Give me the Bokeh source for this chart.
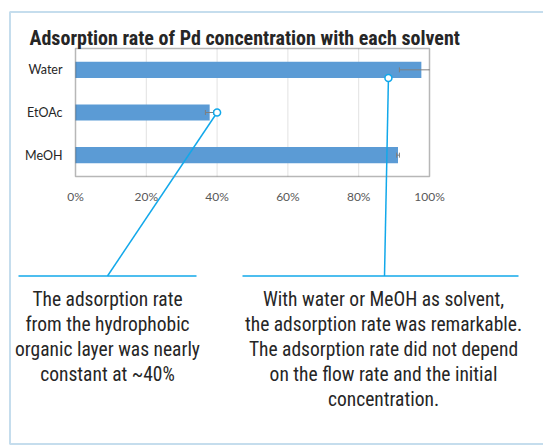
import math

from bokeh.plotting import figure
from bokeh.models import Range1d, FixedTicker, Label, BoxAnnotation, Arrow, LinearAxis
from bokeh.embed import file_html
from bokeh.resources import INLINE

# ---- data ----
solvents = ["MeOH", "EtOAc", "Water"]
rate_pct = [91.1, 37.9, 97.7]
err_pct = [0.4, 1.2, 6.2]
x_ticks = [0, 20, 40, 60, 80, 100]
x_tick_labels = ["0%", "20%", "40%", "60%", "80%", "100%"]

title_text = "Adsorption rate of Pd concentration with each solvent"
note_left = ["The adsorption rate", "from the hydrophobic",
             "organic layer was nearly", "constant at ~40%"]
note_right = ["With water or MeOH as solvent,", "the adsorption rate was remarkable.",
              "The adsorption rate did not depend", "on the flow rate and the initial",
              "concentration."]

# callout anchor points: (percent, solvent, offset within the category slot)
BAR_H = 0.38
anchor_left = (40.0, "EtOAc", 0.0)
anchor_right = (88.4, "Water", -BAR_H / 2)

# ---- layout ----
W, H = 543, 445
CL, CR, CT, CB = 75, 429, 48, 176   # chart box edges in canvas pixels
BAR_COLOR = "#5b9bd5"
CALLOUT = "#12a8ea"
TEXT = "#262626"
NARROW = "Roboto Condensed"

n = len(solvents)
y_pos = list(range(n))              # one slot per solvent, bottom to top
slot = (CB - CT) / n
X_MIN, X_MAX = x_ticks[0], x_ticks[-1]
x_per_px = (X_MAX - X_MIN) / (CR - CL)

# the frame covers the whole canvas; the chart box sits inside it
x_range = Range1d(X_MIN - CL * x_per_px, X_MIN + (W - CL) * x_per_px)
y_range = Range1d((CB - H) / slot - 0.5, CB / slot - 0.5)


def px_x(pct):
    return CL + (pct - X_MIN) / x_per_px


def px_y(cat, off=0.0):
    return CB - (solvents.index(cat) + 0.5 + off) * slot


p = figure(width=W, height=H, output_backend="svg", toolbar_location=None,
           x_range=x_range, y_range=y_range,
           x_axis_location=None, y_axis_location=None,
           min_border=0, min_border_left=0, min_border_right=0,
           min_border_top=0, min_border_bottom=0)
p.background_fill_color = "white"
p.border_fill_color = "white"
p.outline_line_color = None
p.xgrid.visible = False
p.ygrid.visible = False

# canvas-pixel ranges for the decorations around the chart
p.extra_x_ranges = {"cx": Range1d(0, W)}
p.extra_y_ranges = {"cy": Range1d(H, 0)}

# vertical gridlines inside the chart box
grid_x = x_ticks[1:-1]
p.segment(x0=grid_x, y0=[-0.5] * len(grid_x), x1=grid_x, y1=[n - 0.5] * len(grid_x),
          line_color="#e2e2e2", line_width=1)

# bars
p.hbar(y=y_pos, right=rate_pct, height=BAR_H, left=0, fill_color=BAR_COLOR,
       line_color=None)

# error bars (cut at the end of the value axis)
lo = [r - e for r, e in zip(rate_pct, err_pct)]
hi = [min(r + e, X_MAX) for r, e in zip(rate_pct, err_pct)]
p.segment(x0=lo, y0=y_pos, x1=hi, y1=y_pos, line_color="#7f7f7f", line_width=1)
caps_x = lo + [h for h in hi if h < X_MAX]
caps_y = y_pos + [y for y, h in zip(y_pos, hi) if h < X_MAX]
p.scatter(x=caps_x, y=caps_y, marker="dash", angle=math.pi / 2,
          size=5, line_color="#7f7f7f", line_width=1)

# chart box outline
p.add_layout(BoxAnnotation(left=X_MIN, right=X_MAX, bottom=-0.5, top=n - 0.5,
                           fill_color=None, line_color="#111111", line_width=1.5))

# axes pinned to the chart box
xaxis = LinearAxis(fixed_location=-0.5, ticker=FixedTicker(ticks=x_ticks),
                   major_label_overrides=dict(zip(x_ticks, x_tick_labels)))
yaxis = LinearAxis(fixed_location=X_MIN, ticker=FixedTicker(ticks=y_pos),
                   major_label_overrides=dict(zip(y_pos, solvents)))
for ax in (xaxis, yaxis):
    ax.axis_line_color = None
    ax.major_tick_line_color = None
    ax.minor_tick_line_color = None
    ax.major_tick_out = 0
    ax.major_tick_in = 0
    ax.major_label_text_font = "Lato"
xaxis.major_label_standoff = 12
xaxis.major_label_text_font_size = "12px"
xaxis.major_label_text_color = "#595959"
yaxis.major_label_standoff = 13
yaxis.major_label_text_font_size = "12.5px"
yaxis.major_label_text_color = TEXT
p.add_layout(xaxis, "below")
p.add_layout(yaxis, "left")

# outer panel border
p.add_layout(BoxAnnotation(left=9.5, right=W + 20, top=11.5, bottom=443.5,
                           fill_color=None, line_color="#3f8fc4", line_width=2,
                           x_range_name="cx", y_range_name="cy"))

# title
p.add_layout(Label(x=29, y=37, text=title_text, text_font=NARROW,
                   text_font_style="bold", text_font_size="20px", text_color=TEXT,
                   text_baseline="alphabetic", x_range_name="cx", y_range_name="cy"))

# callouts
RULE_Y = 275.5
for (pct, cat, off), end_x, rule in ((anchor_left, 107, (18, 196)),
                                     (anchor_right, 384, (242, 518))):
    ax_, ay_ = px_x(pct), px_y(cat, off)
    p.add_layout(Arrow(end=None, x_start=ax_, y_start=ay_, x_end=end_x, y_end=RULE_Y,
                       line_color=CALLOUT, line_width=1.5,
                       x_range_name="cx", y_range_name="cy"))
    p.add_layout(Arrow(end=None, x_start=rule[0], y_start=RULE_Y, x_end=rule[1],
                       y_end=RULE_Y, line_color=CALLOUT, line_width=1.5,
                       x_range_name="cx", y_range_name="cy"))

p.scatter(x=[anchor_left[0], anchor_right[0]],
          y=[solvents.index(anchor_left[1]) + anchor_left[2],
             solvents.index(anchor_right[1]) + anchor_right[2]],
          size=7, fill_color="white", line_color=CALLOUT, line_width=1.5,
          level="overlay")

# notes
for lines, cx in ((note_left, 107), (note_right, 383)):
    for i, line in enumerate(lines):
        p.add_layout(Label(x=cx, y=298.5 + 25.2 * i, text=line, text_font=NARROW,
                           text_font_size="19.5px", text_color=TEXT, text_align="center",
                           text_baseline="alphabetic",
                           x_range_name="cx", y_range_name="cy"))

open("out.html", "w").write(file_html(p, INLINE))
